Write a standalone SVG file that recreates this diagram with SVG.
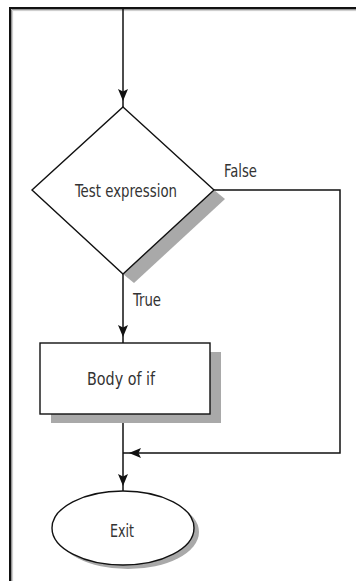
<svg xmlns="http://www.w3.org/2000/svg" xmlns:xlink="http://www.w3.org/1999/xlink" width="356" height="581" viewBox="0 0 356 581">
<style>
.ln{fill:none;stroke:#111;stroke-width:1.5}
.node{fill:#fff;stroke:#111;stroke-width:1.4}
.shadow{fill:#a9a9a9;stroke:none}
.lbl{font-family:"Liberation Sans Narrow","DejaVu Sans Condensed","Liberation Sans",Arial,sans-serif;font-size:18px;fill:#333;font-stretch:condensed}
</style>
<defs>
<path id="ah" d="M0,0 L-5,-12 L0,-9.5 L5,-12 Z" fill="#111"/>
</defs>
<rect x="0" y="0" width="356" height="581" fill="#fff"/>
<g id="frame">
<path d="M10,581 V8 H356" fill="none" stroke="#111" stroke-width="2"/>
<path d="M11.6,581 V9.6 H356" fill="none" stroke="#888" stroke-width="1"/>
<path d="M12.6,581 V10.6 H356" fill="none" stroke="#ccc" stroke-width="1"/>
</g>
<g id="connectors">
<path class="ln" d="M123,9 V107"/>
<use xlink:href="#ah" transform="translate(123,101)"/>
<path class="ln" d="M123,274 V343"/>
<use xlink:href="#ah" transform="translate(123,337)"/>
<path class="ln" d="M214,190 H340 V453 H123"/>
<use xlink:href="#ah" transform="translate(129,453) rotate(90)"/>
<path class="ln" d="M123,414 V491"/>
<use xlink:href="#ah" transform="translate(123,486)"/>
<text class="lbl" x="224" y="177" textLength="33" lengthAdjust="spacingAndGlyphs">False</text>
<text class="lbl" x="133" y="306" textLength="28" lengthAdjust="spacingAndGlyphs">True</text>
</g>
<g id="test">
<polygon class="shadow" points="214,190 225,199 134,283 123,274"/>
<polygon class="node" points="123,107 214,190 123,274 32,190"/>
<text class="lbl" x="75" y="197" textLength="102" lengthAdjust="spacingAndGlyphs">Test expression</text>
</g>
<g id="body">
<rect class="shadow" x="51" y="352" width="170" height="71"/>
<rect class="node" x="40" y="343" width="170" height="71"/>
<text class="lbl" x="87" y="385" textLength="68" lengthAdjust="spacingAndGlyphs">Body of if</text>
</g>
<g id="exit">
<ellipse class="shadow" cx="128" cy="532" rx="71" ry="37"/>
<ellipse class="node" cx="123" cy="528" rx="71" ry="37"/>
<text class="lbl" x="110" y="537" textLength="24" lengthAdjust="spacingAndGlyphs">Exit</text>
</g>
</svg>
